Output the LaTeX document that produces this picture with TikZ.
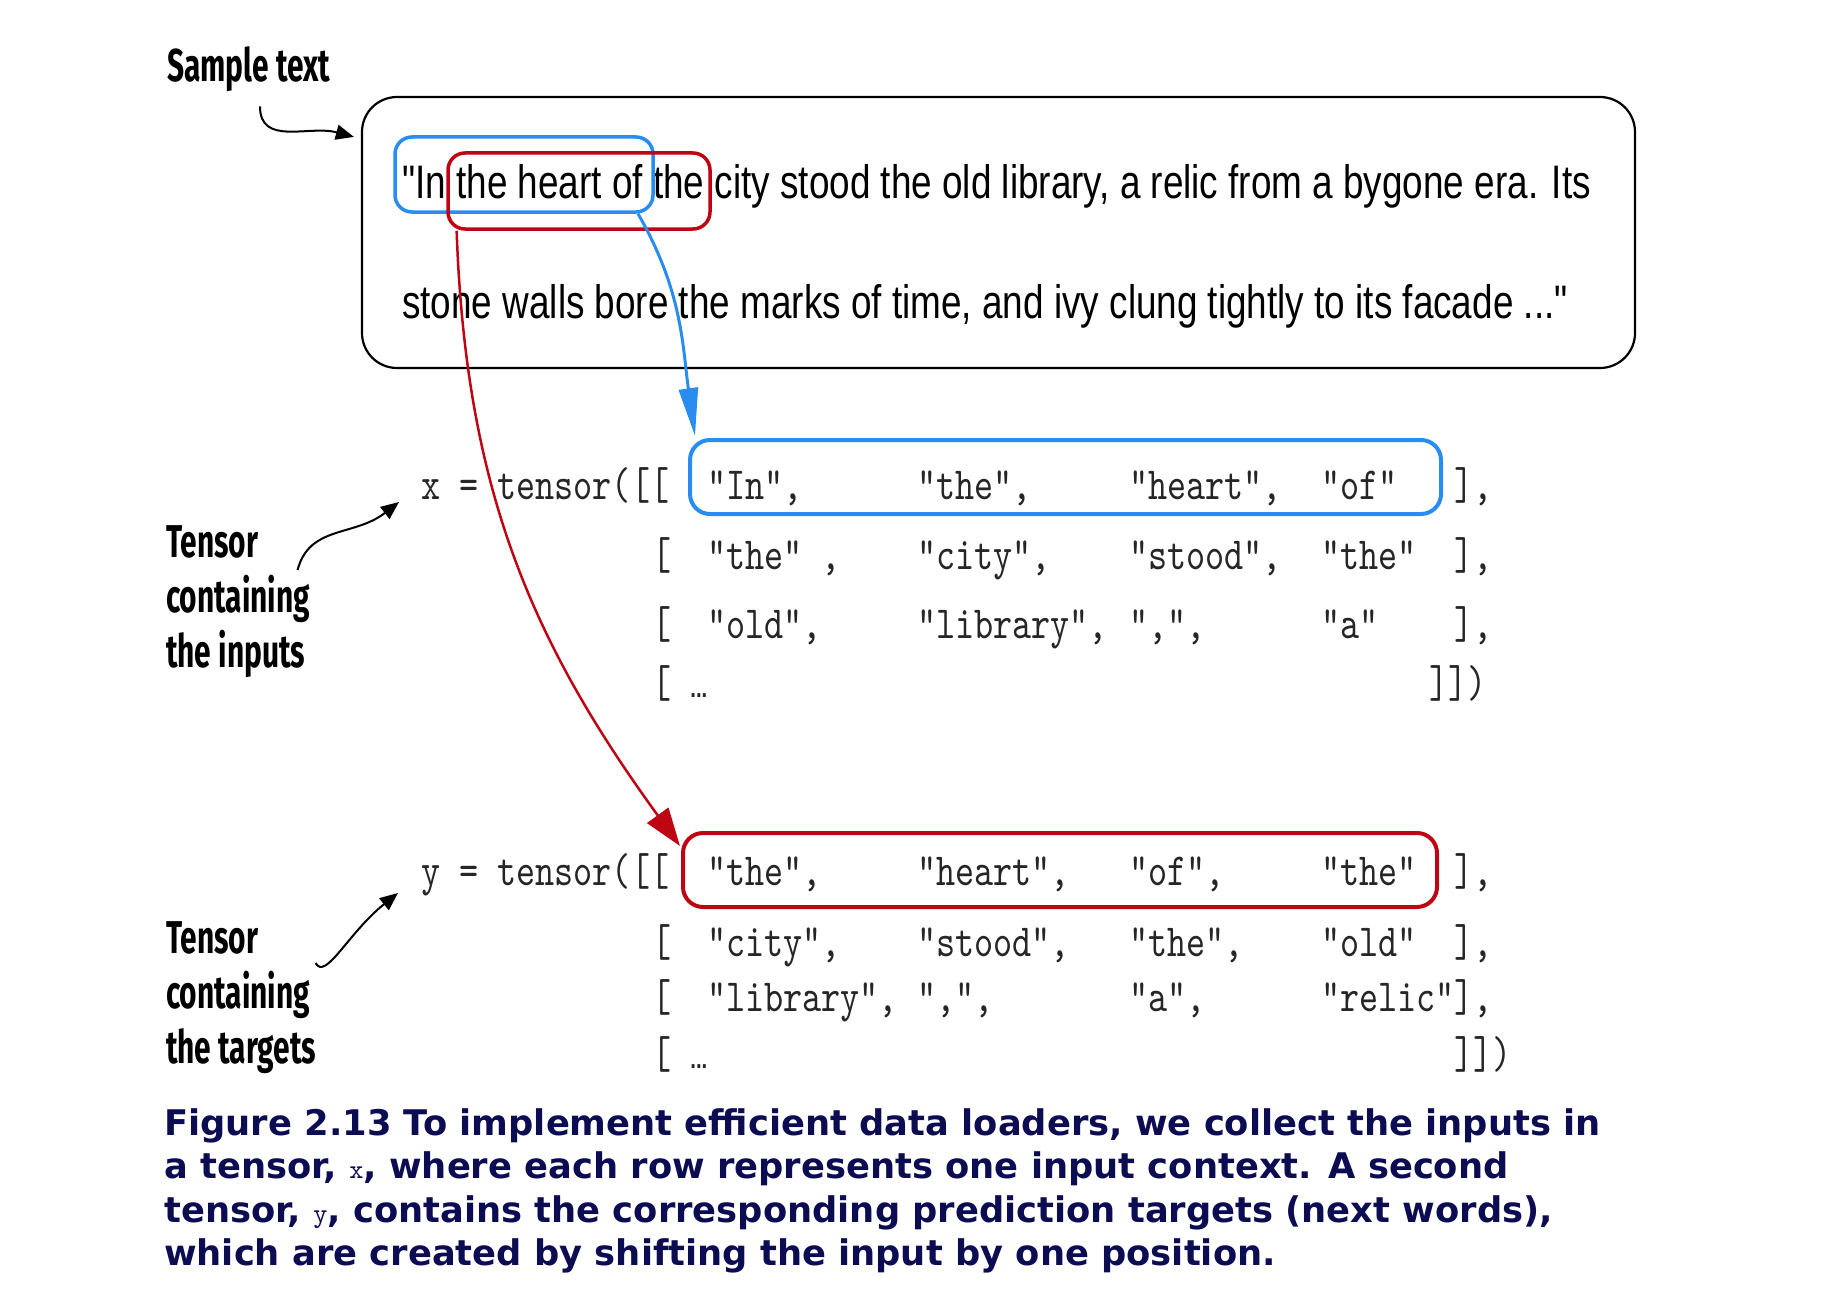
\documentclass[tikz,border=0pt]{standalone}
\usepackage{fontspec}
\usetikzlibrary{arrows.meta,calc}
\newfontfamily\quotefam[FakeStretch=0.785]{Liberation Sans}
\newfontfamily\codefam[FakeStretch=0.79]{lmmono10-regular.otf}
\newfontfamily\capmono{lmmono10-regular.otf}
\newfontfamily\notefam[FakeStretch=0.65]{Fira Sans}
\newfontfamily\capfam{DejaVu Sans}
\definecolor{inblue}{RGB}{40,140,240}
\definecolor{tgtred}{RGB}{190,5,20}
\definecolor{capnavy}{RGB}{12,12,82}
\newcommand\capcode[1]{{\capmono\fontsize{27}{27}\selectfont #1}}
\newcommand\tokdots{{\quotefam\bfseries\fontsize{26}{26}\selectfont...}}
\tikzset{
  quote/.style={font={\quotefam\fontsize{47}{56}\selectfont}, anchor=base west, inner sep=0pt},
  tok/.style={font={\codefam\fontsize{46}{50}\selectfont}, anchor=base west, inner sep=0pt, text=black!85},
  lbl/.style={font={\notefam\bfseries\fontsize{46}{55}\selectfont}, anchor=base west, inner sep=0pt},
  captxt/.style={font={\capfam\bfseries\fontsize{35.3}{43}\selectfont}, anchor=base west, inner sep=0pt, text=capnavy},
  hlbox/.style={draw=#1, line width=3.5pt, rounded corners=17pt, inner sep=0pt},
  rowbox/.style={draw=#1, line width=4pt, rounded corners=20pt, inner sep=0pt},
  pointer/.style={line width=2pt, -{Triangle[length=18pt,width=15pt]}},
}
\begin{document}
\begin{tikzpicture}[x=1pt,y=-1pt]
  \useasboundingbox (0,0) rectangle (1822,1308);
  % sample text
  \node[lbl] (lblsample) at (167,82) {Sample text};
  \node[draw, line width=2.2pt, rounded corners=35pt, minimum width=1273pt, minimum height=271pt, inner sep=0pt] (frame) at (998.5,232.5) {};
  \node[quote] (ln1) at (402,198) {"In the heart of the city stood the old library, a relic from a bygone era. Its};
  \node[quote] (ln2) at (402,318) {stone walls bore the marks of time, and ivy clung tightly to its facade ..."};
  \node[hlbox=inblue, minimum width=258pt, minimum height=75pt] (hlx) at (524,174.5) {};
  \node[hlbox=tgtred, minimum width=262pt, minimum height=76pt] (hlr) at (579,191) {};
  \coordinate (s0) at ($(lblsample.south west)+(93,14)$);
  \coordinate (s1) at ($(frame.north west)+(-7,41)$);
  \draw[pointer] (s0) .. controls +(0,40) and +(-45,-12) .. (s1);

  % inputs x
  \node[lbl] (lblin1) at (166,557) {Tensor};
  \node[lbl] (lblin2) at (166,612) {containing};
  \node[lbl] (lblin3) at (166,667) {the inputs};
  \node[tok] (xlhs) at (421,499) {x = tensor([[};
  \foreach \c/\t [count=\i] in {707/{"In",}, 917/{"the",}, 1129/{"heart",}, 1321/{"of"}, 1454/{],}}
    \node[tok] (x-1-\i) at (\c,499) {\t};
  \foreach \c/\t [count=\i] in {652/{[}, 707/{"the" ,}, 917/{"city",}, 1129/{"stood",}, 1321/{"the"}, 1454/{],}}
    \node[tok] (x-2-\i) at (\c,569) {\t};
  \foreach \c/\t [count=\i] in {652/{[}, 707/{"old",}, 917/{"library",}, 1129/{",",}, 1321/{"a"}, 1454/{],}}
    \node[tok] (x-3-\i) at (\c,638) {\t};
  \node[tok] (x-4-1) at (652,697) {[ \tokdots};
  \node[tok] (x-4-2) at (1429,697) {]])};
  \node[rowbox=inblue, minimum width=751pt, minimum height=74pt] (bx) at (1065.5,477) {};
  \coordinate (i0) at ($(lblin1.base east)+(39,13)$);
  \coordinate (i1) at ($(xlhs.base west)+(-22,3)$);
  \draw[pointer] (i0) .. controls +(12,-45) and +(-45,35) .. (i1);

  % targets y
  \node[lbl] (lbltg1) at (166,953) {Tensor};
  \node[lbl] (lbltg2) at (166,1008) {containing};
  \node[lbl] (lbltg3) at (166,1063) {the targets};
  \node[tok] (ylhs) at (421,885) {y = tensor([[};
  \foreach \c/\t [count=\i] in {707/{"the",}, 917/{"heart",}, 1129/{"of",}, 1321/{"the"}, 1454/{],}}
    \node[tok] (y-1-\i) at (\c,885) {\t};
  \foreach \c/\t [count=\i] in {652/{[}, 707/{"city",}, 917/{"stood",}, 1129/{"the",}, 1321/{"old"}, 1454/{],}}
    \node[tok] (y-2-\i) at (\c,956) {\t};
  \foreach \c/\t [count=\i] in {652/{[}, 707/{"library",}, 917/{",",}, 1129/{"a",}, 1321/{"relic"],}}
    \node[tok] (y-3-\i) at (\c,1011) {\t};
  \node[tok] (y-4-1) at (652,1068) {[ \tokdots};
  \node[tok] (y-4-2) at (1454,1068) {]])};
  \node[rowbox=tgtred, minimum width=754pt, minimum height=74pt] (by) at (1060,870) {};
  \coordinate (t0) at ($(lbltg1.base east)+(57,10)$);
  \coordinate (t1) at ($(ylhs.base west)+(-23,8)$);
  \draw[pointer] (t0) .. controls +(10,18) and +(-50,40) .. (t1);

  % shift arrows
  \draw[inblue, line width=3pt, -{Triangle[length=48pt,width=19pt]}]
    (hlx.-19) to[out=-60,in=98] ($(bx.north west)+(7,-2)$);
  \draw[tgtred, line width=2.5pt, -{Triangle[length=38pt,width=26pt]}]
    (hlr.-162) to[out=-88,in=126] ($(by.north west)+(-1,15)$);

  % caption
  \node[captxt] (cap1) at (164,1135) {Figure 2.13 To implement efficient data loaders, we collect the inputs in};
  \node[captxt] (cap2) at (164,1178) {a tensor, \capcode{x}, where each row represents one input context. A second};
  \node[captxt] (cap3) at (164,1222) {tensor, \capcode{y}, contains the corresponding prediction targets (next words),};
  \node[captxt] (cap4) at (164,1265) {which are created by shifting the input by one position.};
\end{tikzpicture}
\end{document}
